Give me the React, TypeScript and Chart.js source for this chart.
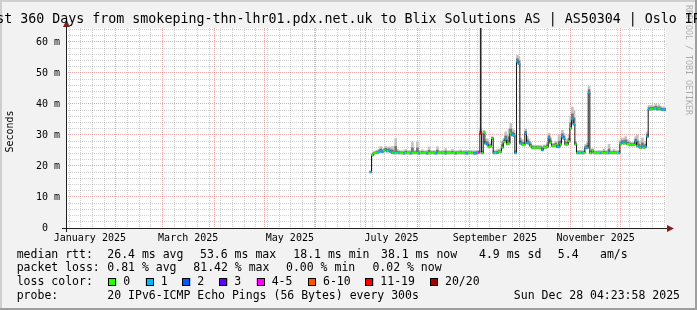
import React, { useEffect, useRef } from 'react';
import { Chart, registerables } from 'chart.js';

Chart.register(...registerables);

// ---------------- data ----------------
const TITLE = 'Last 360 Days from smokeping-thn-lhr01.pdx.net.uk to Blix Solutions AS | AS50304 | Oslo IPv6';

// x axis is "day of 2025" (Jan 1 00:00 = 0); graph covers 360 days ending Dec 28 04:23
const X_MIN = 1.18;
const X_MAX = 361.18;
const FIRST_DAY = 184; // first sample (early July)

const medianMs = [
  18.1, 23.5, 24.1, 24.2, 24.3, 24.5, 24.8, 24.6, 24.9, 25.2,
  24.8, 25.0, 24.6, 24.3, 24.2, 24.2, 24.2, 24.2, 24.2, 24.2,
  24.1, 24.2, 24.2, 24.2, 24.1, 24.2, 24.2, 24.2, 24.2, 24.1,
  24.2, 24.2, 24.2, 24.2, 24.1, 24.2, 24.2, 24.2, 24.2, 24.1,
  24.2, 24.2, 24.2, 24.2, 24.2, 24.1, 24.2, 24.2, 24.2, 24.2,
  24.2, 24.1, 24.2, 24.2, 24.2, 24.2, 24.2, 24.1, 24.1, 24.2,
  24.2, 24.2, 24.1, 24.1, 24.3, 24.4, 30.5, 24.2, 30.7, 27.3,
  27.0, 26.2, 26.4, 28.9, 24.2, 24.2, 24.3, 24.6, 24.6, 26.0,
  27.8, 28.6, 27.1, 27.3, 30.5, 30.0, 29.8, 24.2, 53.6, 53.0,
  27.3, 27.0, 26.8, 30.5, 27.5, 27.3, 26.5, 25.9, 25.9, 25.9,
  25.9, 25.9, 25.9, 25.2, 26.0, 26.0, 26.2, 29.1, 27.5, 26.5,
  26.5, 26.8, 26.2, 26.2, 27.0, 29.4, 28.9, 27.0, 27.0, 28.0,
  32.2, 35.0, 33.5, 27.0, 24.2, 24.2, 24.2, 24.2, 24.2, 25.9,
  25.9, 43.6, 24.2, 24.9, 24.2, 24.2, 24.2, 24.2, 24.2, 24.2,
  24.2, 24.2, 24.2, 24.2, 24.2, 24.2, 24.2, 24.2, 24.2, 24.2,
  27.1, 27.5, 27.3, 27.5, 27.1, 27.1, 26.8, 26.8, 26.8, 28.0,
  26.5, 26.2, 25.9, 26.2, 25.9, 26.2, 29.5, 38.3, 38.3, 38.5,
  38.4, 38.6, 38.3, 38.5, 38.3, 38.2, 38.2, 38.1,
];

// loss bin index per sample (0:"0", 1:"1", 2:"2", 3:"3", 4:"4-5", 5:"6-10", 6:"11-19", 7:"20/20")
const lossBin = [
  1, 0, 0, 0, 0, 1, 1, 1, 0, 1,
  0, 1, 1, 0, 1, 0, 0, 1, 0, 0,
  1, 0, 0, 0, 1, 0, 0, 0, 0, 1,
  0, 0, 0, 0, 1, 0, 0, 0, 0, 1,
  1, 0, 0, 0, 0, 1, 0, 0, 0, 0,
  0, 1, 0, 0, 0, 0, 0, 1, 1, 0,
  0, 0, 1, 1, 1, 4, 6, 0, 0, 1,
  1, 0, 0, 0, 1, 0, 1, 0, 0, 0,
  0, 1, 0, 0, 0, 1, 1, 1, 1, 1,
  1, 0, 0, 1, 1, 1, 0, 0, 0, 0,
  0, 0, 0, 1, 0, 0, 0, 1, 0, 0,
  0, 0, 1, 1, 0, 1, 1, 0, 0, 0,
  0, 1, 1, 0, 0, 1, 0, 1, 0, 1,
  1, 1, 0, 0, 0, 0, 0, 0, 1, 0,
  0, 0, 0, 1, 0, 0, 0, 0, 0, 1,
  0, 1, 0, 1, 0, 0, 0, 0, 0, 1,
  0, 1, 0, 1, 0, 1, 1, 1, 0, 0,
  1, 0, 1, 0, 1, 1, 1, 1,
];

// upper edge of the "smoke" (slowest pings) per sample
const smokeHighMs = [
  18.5, 24.0, 24.7, 24.9, 25.1, 25.4, 26.3, 25.5, 25.6, 26.3,
  26.0, 26.2, 25.8, 26.3, 25.0, 28.9, 25.4, 25.0, 24.9, 24.9,
  24.9, 25.4, 24.9, 24.9, 25.0, 27.8, 24.9, 25.0, 27.8, 25.0,
  24.9, 25.2, 24.9, 24.9, 24.9, 26.1, 24.9, 24.9, 25.0, 24.9,
  26.2, 24.9, 24.9, 24.9, 25.0, 25.6, 24.9, 24.9, 24.9, 25.3,
  24.9, 24.9, 24.9, 24.9, 25.2, 24.9, 24.9, 25.0, 25.0, 25.0,
  24.9, 24.9, 24.9, 25.0, 25.0, 25.0, 32.0, 25.0, 31.5, 28.5,
  28.8, 27.5, 27.5, 29.5, 25.0, 25.0, 25.2, 25.5, 25.5, 28.0,
  29.0, 31.0, 30.0, 32.0, 33.7, 32.0, 31.5, 25.0, 55.7, 55.0,
  29.0, 28.5, 28.0, 32.0, 29.5, 28.5, 27.5, 26.8, 26.6, 26.6,
  26.6, 26.6, 26.6, 26.0, 26.8, 26.8, 27.5, 30.5, 29.0, 27.3,
  27.3, 28.0, 27.0, 30.0, 29.5, 31.5, 30.5, 27.8, 28.5, 30.0,
  36.0, 39.0, 38.0, 28.0, 25.0, 25.0, 25.0, 25.0, 25.2, 27.0,
  27.5, 45.8, 25.0, 25.6, 24.9, 24.9, 24.9, 24.9, 24.9, 24.9,
  25.5, 24.9, 24.9, 27.0, 24.9, 24.9, 25.4, 24.9, 24.9, 25.0,
  28.5, 29.0, 29.0, 29.5, 28.5, 28.0, 27.6, 27.6, 27.6, 29.5,
  30.0, 28.0, 26.8, 29.0, 27.0, 28.0, 31.0, 39.5, 39.5, 39.5,
  39.3, 40.0, 39.3, 39.8, 39.2, 39.0, 39.0, 38.8,
];

// single outlier spikes (day, top in ms)
const spikeDays = [250];
const spikeTopMs = [64.5];

const monthStartDays = [31, 59, 90, 120, 151, 181, 212, 243, 273, 304, 334];
const weekGridDays = [3, 10, 17, 24, 38, 45, 52, 66, 73, 80, 87, 94, 101, 108, 115, 122, 129, 136, 143, 150,
  157, 164, 171, 178, 185, 192, 199, 206, 213, 220, 227, 234, 241, 248, 255, 262, 269, 276, 283, 290, 297,
  311, 318, 325, 332, 339, 346, 353, 360];
const monthLabelDays = [15.5, 74.5, 135.5, 196.5, 258.5, 319];
const monthLabels = ['January 2025', 'March 2025', 'May 2025', 'July 2025', 'September 2025', 'November 2025'];

const Y_MAX = 64.5;
const yMajorTicks = [0, 10, 20, 30, 40, 50, 60];
const yMinorTicks = [2, 4, 6, 8, 12, 14, 16, 18, 22, 24, 26, 28, 32, 34, 36, 38, 42, 44, 46, 48, 52, 54, 56, 58, 62, 64];

const LOSS_COLORS = ['#26ff00', '#00b8ff', '#0059ff', '#5e00ff', '#ff00ff', '#ff5500', '#ff0000', '#a10000'];
const LOSS_LABELS = ['0', '1', '2', '3', '4-5', '6-10', '11-19', '20/20'];

const LEGEND_RTT = [
  ['median rtt:', 16.7], ['26.4 ms avg', 107.3], ['53.6 ms max', 200], ['18.1 ms min', 293.3],
  ['38.1 ms now', 381], ['4.9 ms sd', 479], ['5.4', 557.8], ['am/s', 600],
] as const;
const LEGEND_LOSS = [
  ['packet loss:', 16.7], ['0.81 % avg', 107.3], ['81.42 % max', 193.3], ['0.00 % min', 286], ['0.02 % now', 372.4],
] as const;
const LOSS_BOX_X = [108.3, 145.7, 182.3, 219.3, 256.7, 308, 365.3, 430];
const PROBE_TEXT = '20 IPv6-ICMP Echo Pings (56 Bytes) every 300s';
const DATE_TEXT = 'Sun Dec 28 04:23:58 2025';

// ---------------- style ----------------
const MONO = '"DejaVu Sans Mono", monospace';
const BACK = '#f2f2f2';
const SHADE_A = '#cfcfcf';
const SHADE_B = '#9e9e9e';
const GRID = 'rgba(143,143,143,0.42)';
const MGRID = 'rgba(222,79,79,0.5)';
const ARROW = 'rgb(128,31,31)';
const AXIS = '#1f1f1f';

const days = medianMs.map((_, i) => FIRST_DAY + i);

const xTicks = [
  ...weekGridDays.map((v) => ({ value: v, kind: 'week', lbl: '' })),
  ...monthStartDays.map((v) => ({ value: v, kind: 'month', lbl: '' })),
  ...monthLabelDays.map((v, i) => ({ value: v, kind: 'label', lbl: monthLabels[i] })),
].sort((a, b) => a.value - b.value);

const yTicks = [...yMajorTicks, ...yMinorTicks].sort((a, b) => a - b).map((v) => ({ value: v }));

const decorPlugin = {
  id: 'decor',
  beforeDraw(chart: any) {
    const { ctx, chartArea: a } = chart;
    const W = chart.width, H = chart.height;
    ctx.save();
    ctx.fillStyle = BACK;
    ctx.fillRect(0, 0, W, H);
    ctx.fillStyle = SHADE_A;
    ctx.fillRect(0, 0, W, 2);
    ctx.fillRect(0, 0, 2, H);
    ctx.fillStyle = SHADE_B;
    ctx.fillRect(0, H - 2, W, 2);
    ctx.fillRect(W - 2, 0, 2, H);
    ctx.fillStyle = '#ffffff';
    ctx.fillRect(a.left, a.top, a.right - a.left, a.bottom - a.top);
    ctx.restore();
  },
  afterDraw(chart: any) {
    const { ctx, chartArea: a } = chart;
    ctx.save();
    ctx.strokeStyle = AXIS;
    ctx.lineWidth = 1;
    ctx.beginPath();
    ctx.moveTo(a.left - 4, a.bottom + 0.5);
    ctx.lineTo(a.right + 2, a.bottom + 0.5);
    ctx.moveTo(a.left + 0.5, a.bottom + 4);
    ctx.lineTo(a.left + 0.5, a.top - 2);
    ctx.stroke();
    ctx.fillStyle = ARROW;
    ctx.beginPath();
    ctx.moveTo(a.right + 8, a.bottom + 0.5);
    ctx.lineTo(a.right + 1, a.bottom - 3);
    ctx.lineTo(a.right + 1, a.bottom + 4);
    ctx.closePath();
    ctx.fill();
    ctx.beginPath();
    ctx.moveTo(a.left + 0.5, a.top - 8);
    ctx.lineTo(a.left - 3, a.top - 1);
    ctx.lineTo(a.left + 4, a.top - 1);
    ctx.closePath();
    ctx.fill();

    ctx.fillStyle = '#000';
    ctx.font = `13.3px ${MONO}`;
    ctx.textAlign = 'center';
    ctx.textBaseline = 'alphabetic';
    ctx.fillText(TITLE, chart.width / 2, 22.5);

    ctx.save();
    ctx.translate(10.5, 131.5);
    ctx.rotate(-Math.PI / 2);
    ctx.font = `10px ${MONO}`;
    ctx.textAlign = 'center';
    ctx.textBaseline = 'middle';
    ctx.fillText('Seconds', 0, 0);
    ctx.restore();

    ctx.save();
    ctx.translate(688, 60);
    ctx.rotate(Math.PI / 2);
    ctx.font = `8.3px ${MONO}`;
    ctx.fillStyle = 'rgba(0,0,0,0.3)';
    ctx.textAlign = 'center';
    ctx.textBaseline = 'middle';
    ctx.fillText('RRDTOOL / TOBI OETIKER', 0, 0);
    ctx.restore();

    ctx.font = `11.5px ${MONO}`;
    ctx.fillStyle = '#000';
    ctx.textAlign = 'left';
    ctx.textBaseline = 'middle';
    const r1 = 254.7, r2 = 268.3, r3 = 282, r4 = 296.3;
    LEGEND_RTT.forEach(([t, x]) => ctx.fillText(t, x, r1));
    LEGEND_LOSS.forEach(([t, x]) => ctx.fillText(t, x, r2));
    ctx.fillText('loss color:', 16.7, r3);
    LOSS_LABELS.forEach((lab, i) => {
      const bx = LOSS_BOX_X[i];
      ctx.fillStyle = LOSS_COLORS[i];
      ctx.fillRect(bx, r3 - 4, 8, 8);
      ctx.strokeStyle = '#000';
      ctx.lineWidth = 1;
      ctx.strokeRect(Math.round(bx) + 0.5, Math.round(r3 - 4) + 0.5, 7, 7);
      ctx.fillStyle = '#000';
      ctx.fillText(lab, bx + 15, r3);
    });
    ctx.fillText('probe:', 16.7, r4);
    ctx.fillText(PROBE_TEXT, 107.3, r4);
    ctx.textAlign = 'right';
    ctx.fillText(DATE_TEXT, 680, r4);
    ctx.restore();
  },
};

export default function App() {
  const ref = useRef<HTMLCanvasElement>(null);
  useEffect(() => {
    document.body.style.margin = '0';
    const smokeOuter = days.map((d, i) => ({ x: d, y: [medianMs[i] - 0.4, smokeHighMs[i]] }));
    const smokeInner = days.map((d, i) => ({
      x: d,
      y: [medianMs[i] - 0.2, medianMs[i] + (smokeHighMs[i] - medianMs[i]) * 0.45],
    }));
    const spikes = spikeDays.map((d, i) => ({ x: d, y: [medianMs[d - FIRST_DAY], spikeTopMs[i]] }));
    const med = days.map((d, i) => ({ x: d, y: medianMs[i] }));
    const chart = new Chart(ref.current as HTMLCanvasElement, {
      type: 'line',
      data: {
        datasets: [
          {
            type: 'bar', data: smokeOuter as any, backgroundColor: '#c2c2c2', barThickness: 2,
            grouped: false, order: 4, borderWidth: 0,
          } as any,
          {
            type: 'bar', data: smokeInner as any, backgroundColor: '#747474', barThickness: 2,
            grouped: false, order: 3, borderWidth: 0,
          } as any,
          {
            type: 'bar', data: spikes as any, backgroundColor: '#262626', barThickness: 1,
            grouped: false, order: 2, borderWidth: 0,
          } as any,
          {
            type: 'line', data: med as any, stepped: 'middle', borderColor: '#141414', borderWidth: 1,
            pointRadius: 0, order: 1, fill: false,
          } as any,
          {
            type: 'line', data: med as any, showLine: false, pointStyle: 'line', pointRadius: 1,
            pointBorderWidth: 2, pointBorderColor: lossBin.map((b) => LOSS_COLORS[b]),
            pointBackgroundColor: lossBin.map((b) => LOSS_COLORS[b]), pointHoverRadius: 1, order: 0,
          } as any,
        ],
      },
      options: {
        responsive: false,
        devicePixelRatio: 1,
        animation: false,
        events: [],
        layout: { padding: { left: 0, top: 28, right: 31, bottom: 0 } },
        plugins: { legend: { display: false }, tooltip: { enabled: false }, title: { display: false } },
        scales: {
          x: {
            type: 'linear', min: X_MIN, max: X_MAX, offset: false,
            afterBuildTicks: (s: any) => { s.ticks = xTicks.map((t) => ({ ...t })); },
            afterFit: (s: any) => { s.height = 82; },
            grid: {
              offset: false, drawTicks: false, lineWidth: 1,
              color: (c: any) => (c.tick && c.tick.kind === 'month' ? MGRID : c.tick && c.tick.kind === 'week' ? GRID : 'rgba(0,0,0,0)'),
            },
            border: { display: false, dash: [1, 1] },
            ticks: {
              autoSkip: false, maxRotation: 0, minRotation: 0, padding: 4, color: '#000',
              font: { family: MONO, size: 10 },
              callback: (_v: any, i: number, ticks: any[]) => ticks[i].lbl || '',
            },
          },
          y: {
            type: 'linear', min: 0, max: Y_MAX,
            afterBuildTicks: (s: any) => { s.ticks = yTicks.map((t) => ({ ...t })); },
            afterFit: (s: any) => { s.width = 66; },
            grid: {
              drawTicks: false, lineWidth: 1,
              color: (c: any) => (c.tick && c.tick.value % 10 === 0 ? MGRID : GRID),
            },
            border: { display: false, dash: [1, 1] },
            ticks: {
              autoSkip: false, padding: 6, color: '#000',
              font: { family: MONO, size: 10 },
              callback: (v: any) => (v % 10 === 0 ? (v === 0 ? '0  ' : `${v} m`) : ''),
            },
          },
        },
      } as any,
      plugins: [decorPlugin],
    });
    return () => chart.destroy();
  }, []);
  return (
    <div style={{ position: 'fixed', left: 0, top: 0, width: 697, height: 310 }}>
      <canvas ref={ref} width={697} height={310} style={{ display: 'block', width: 697, height: 310 }} />
    </div>
  );
}
